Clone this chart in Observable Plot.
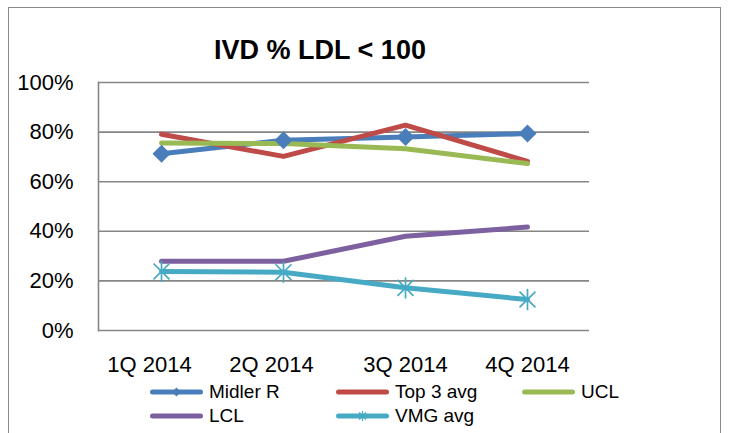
<!DOCTYPE html>
<html>
<head>
<meta charset="utf-8">
<script src="https://cdn.jsdelivr.net/npm/d3@7"></script>
<script src="https://cdn.jsdelivr.net/npm/@observablehq/plot@0.6"></script>
<style>
  html, body { margin: 0; padding: 0; background: #fff; }
  body { width: 729px; height: 433px; overflow: hidden; position: relative; font-family: "Liberation Sans", Arial, sans-serif; }
  #border { position: absolute; left: 8px; top: 7px; width: 713px; height: 480px; border: 1.5px solid #8a8a8a; box-sizing: border-box; }
  #title { position: absolute; left: 0; top: 37px; width: 640px; text-align: center; font-weight: bold; font-size: 27px; line-height: 1; color: #000; }
  #chart { position: absolute; left: 0; top: 0; }
  #legend { position: absolute; left: 150px; top: 380px; display: grid; grid-template-columns: 186px 186px 186px; grid-auto-rows: 24px; }
  .item { display: flex; align-items: center; font-size: 19px; color: #000; white-space: nowrap; }
  .item svg { margin-right: 6px; flex: none; }
</style>
</head>
<body>
<div id="border"></div>
<div id="title">IVD % LDL &lt; 100</div>
<div id="chart"></div>
<div id="legend"></div>
<script>
const quarters = ["1Q 2014", "2Q 2014", "3Q 2014", "4Q 2014"];
const seriesNames = ["Midler R", "Top 3 avg", "UCL", "LCL", "VMG avg"];
const midler = [0.713, 0.767, 0.780, 0.794];
const top3   = [0.791, 0.702, 0.828, 0.682];
const ucl    = [0.756, 0.754, 0.733, 0.673];
const lcl    = [0.279, 0.279, 0.380, 0.417];
const vmg    = [0.238, 0.235, 0.172, 0.125];
const yTicks = [0, 0.2, 0.4, 0.6, 0.8, 1.0];

const colors = ["#4A7EBB", "#BE4B48", "#98B954", "#7D60A0", "#46AAC5"];
const valuesBySeries = [midler, top3, ucl, lcl, vmg];

const rows = [];
seriesNames.forEach((s, i) => {
  quarters.forEach((q, j) => rows.push({series: s, quarter: q, value: valuesBySeries[i][j]}));
});

// Excel-style star marker: vertical stroke plus an X
const starSymbol = {
  draw(context, size) {
    const r = Math.sqrt(size) * 0.5;
    const d = r * 0.75;
    context.moveTo(0, -r); context.lineTo(0, r);
    context.moveTo(-d, -d); context.lineTo(d, d);
    context.moveTo(-d, d); context.lineTo(d, -d);
  }
};

const color = {domain: seriesNames, range: colors};

const plot = Plot.plot({
  width: 729,
  height: 380,
  marginLeft: 98,
  marginRight: 140,
  marginTop: 82,
  marginBottom: 50,
  x: {type: "point", domain: quarters, padding: 0.5, label: null},
  y: {domain: [0, 1], label: null},
  color,
  style: {fontFamily: "'Liberation Sans', Arial, sans-serif", background: "transparent", overflow: "visible"},
  marks: [
    Plot.ruleY(yTicks, {stroke: "#868686", strokeWidth: 1.6}),
    Plot.frame({anchor: "left", stroke: "#868686", strokeWidth: 1.6}),
    Plot.axisY(yTicks, {tickSize: 0, tickPadding: 25, tickFormat: d3.format(".0%"), fontSize: 22, fill: "#000", label: null}),
    Plot.axisX(quarters.slice(0, 2), {tickSize: 0, tickPadding: 26, fontSize: 22, fill: "#000", dx: -12, label: null}),
    Plot.axisX(quarters.slice(2), {tickSize: 0, tickPadding: 26, fontSize: 22, fill: "#000", label: null}),
    Plot.lineY(rows, {x: "quarter", y: "value", z: "series", stroke: "series", strokeWidth: 5, strokeLinecap: "round", strokeLinejoin: "round"}),
    Plot.dot(rows.filter(d => d.series === "Midler R"), {x: "quarter", y: "value", symbol: "diamond2", r: 8.1, fill: colors[0], stroke: "none"}),
    Plot.dot(rows.filter(d => d.series === "VMG avg"), {x: "quarter", y: "value", symbol: starSymbol, r: 12, fill: "none", stroke: colors[4], strokeWidth: 1.7})
  ]
});
document.getElementById("chart").appendChild(plot);

// Legend
const legend = document.getElementById("legend");
seriesNames.forEach((s, i) => {
  const item = document.createElement("div");
  item.className = "item";
  let marker = "";
  if (s === "Midler R") marker = `<path d="M26.5,0.5 L31,5 L26.5,9.5 L22,5 Z" fill="${colors[i]}"/>`;
  if (s === "VMG avg") marker = `<path d="M26.5,0 V10 M23,1.5 L30,8.5 M23,8.5 L30,1.5" stroke="${colors[i]}" stroke-width="1.3" fill="none"/>`;
  item.innerHTML = `<svg width="53" height="10"><line x1="2.5" y1="5" x2="50.5" y2="5" stroke="${colors[i]}" stroke-width="5" stroke-linecap="round"/>${marker}</svg><span>${s}</span>`;
  legend.appendChild(item);
});
</script>
</body>
</html>
